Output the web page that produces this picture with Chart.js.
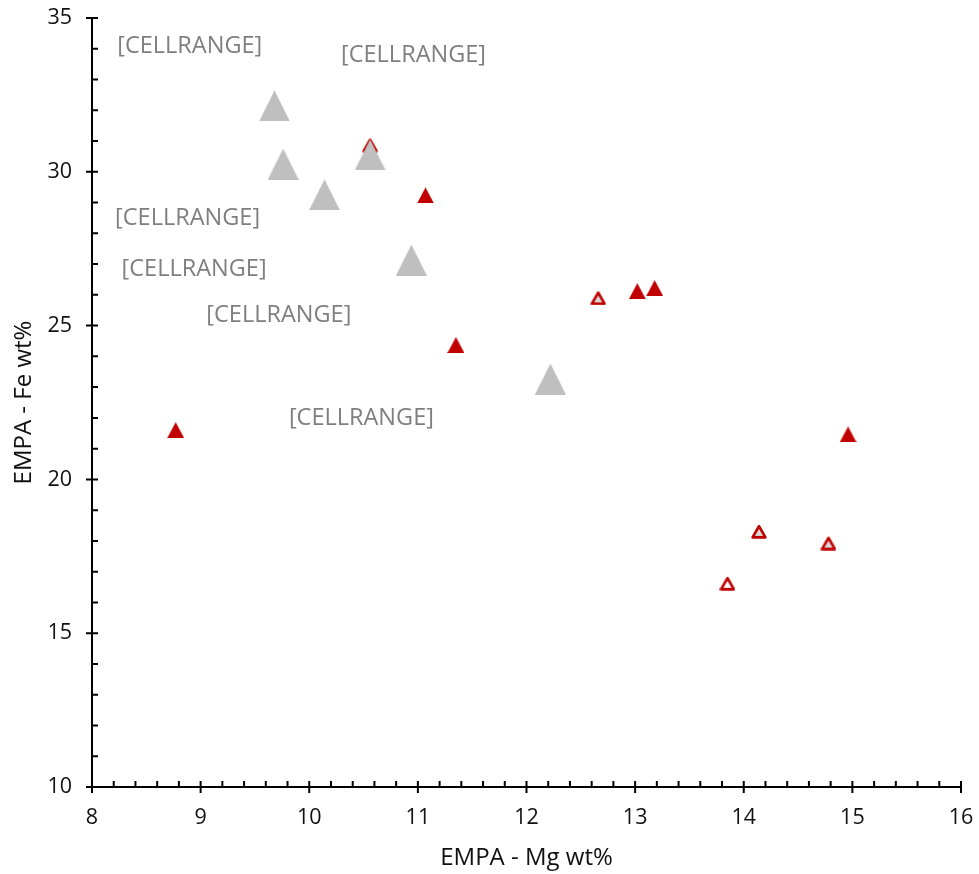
<!DOCTYPE html>
<html><head><meta charset="utf-8">
<script src="https://cdn.jsdelivr.net/npm/chart.js@4.4.0/dist/chart.umd.min.js"></script>
<style>html,body{margin:0;padding:0;background:#fff;}#wrap{width:979px;height:874px;position:relative;}</style>
</head><body><div id="wrap"><canvas id="c"></canvas></div>
<script>
// ---- data ----
const grayMg = [9.68, 9.76, 10.14, 10.56, 10.94, 12.22];
const grayFe = [32.14, 30.25, 29.25, 30.55, 27.13, 23.26];
const grayLabels = ['[CELLRANGE]', '[CELLRANGE]', '[CELLRANGE]', '[CELLRANGE]', '[CELLRANGE]', '[CELLRANGE]'];
const labelMg = [8.90, 10.96, 8.88, 8.94, 9.72, 10.48];
const labelFe = [34.09, 33.80, 28.50, 26.84, 25.34, 21.99];
const filledMg = [8.77, 11.07, 11.35, 13.02, 13.18, 14.96];
const filledFe = [21.60, 29.23, 24.37, 26.12, 26.22, 21.46];
const openMg = [10.56, 12.66, 13.85, 14.14, 14.78];
const openFe = [30.87, 25.90, 16.62, 18.31, 17.93];
const xTicks = [8, 9, 10, 11, 12, 13, 14, 15, 16];
const yTicks = [10, 15, 20, 25, 30, 35];
const xTitle = 'EMPA - Mg wt%';
const yTitle = 'EMPA - Fe wt%';

const pts = (xs, ys) => xs.map((x, i) => ({x: x, y: ys[i]}));

function tri(w, h, fill, stroke, lw) {
  const c = document.createElement('canvas');
  c.width = w; c.height = h;
  const g = c.getContext('2d');
  const i = lw ? lw / 2 + 0.3 : 0;
  g.beginPath();
  g.moveTo(w / 2, i * 1.4);
  g.lineTo(w - i, h - i);
  g.lineTo(i, h - i);
  g.closePath();
  g.fillStyle = fill; g.fill();
  if (lw) { g.lineJoin = 'round'; g.lineWidth = lw; g.strokeStyle = stroke; g.stroke(); }
  return c;
}
const RED = '#c00000';
const grayTri = tri(31, 31, '#bfbfbf');
const redTri = tri(17, 16, RED);
const openTriG = tri(16, 15, '#d9d9d9', RED, 2.6);
const openTriW = tri(16, 15, '#ffffff', RED, 2.6);

const FONT = "'Open Sans', 'DejaVu Sans', sans-serif";

const tickPlugin = {
  id: 'ticksPlugin',
  beforeDatasetsDraw(chart) {
    const {ctx, scales: {x, y}} = chart;
    ctx.save();
    ctx.strokeStyle = '#000';
    ctx.lineWidth = 2;
    const ay = y.getPixelForValue(10), ax = x.getPixelForValue(8);
    ctx.beginPath();
    for (let k = 0; k <= 40; k++) {
      const v = 8 + k * 0.2;
      const px = x.getPixelForValue(v);
      const major = k % 5 === 0;
      ctx.moveTo(px, ay - 6);
      ctx.lineTo(px, major ? ay + 6 : ay);
    }
    for (let v = 10; v <= 35; v++) {
      const py = y.getPixelForValue(v);
      const major = v % 5 === 0;
      ctx.moveTo(major ? ax - 6 : ax, py);
      ctx.lineTo(ax + 6, py);
    }
    ctx.stroke();
    ctx.restore();
  }
};

const labelPlugin = {
  id: 'cellLabels',
  afterDatasetsDraw(chart) {
    const {ctx, scales: {x, y}} = chart;
    ctx.save();
    ctx.font = "23.5px " + FONT;
    ctx.fillStyle = '#7f7f7f';
    ctx.textAlign = 'center';
    ctx.textBaseline = 'middle';
    grayLabels.forEach((t, i) => {
      ctx.fillText(t, x.getPixelForValue(labelMg[i]), y.getPixelForValue(labelFe[i]));
    });
    ctx.restore();
  }
};

new Chart(document.getElementById('c'), {
  type: 'scatter',
  data: {
    datasets: [
      { label: 'gray', data: pts(grayMg, grayFe), pointStyle: grayTri, pointRadius: 8, pointHoverRadius: 8, order: 0 },
      { label: 'filled', data: pts(filledMg, filledFe), pointStyle: redTri, pointRadius: 8, pointHoverRadius: 8, order: 1 },
      { label: 'open', data: pts(openMg, openFe), pointStyle: [openTriG, openTriG, openTriW, openTriG, openTriG], pointRadius: 8, pointHoverRadius: 8, order: 2 }
    ]
  },
  options: {
    responsive: true,
    maintainAspectRatio: false,
    animation: false,
    events: [],
    layout: { padding: { top: 18, right: 18, left: 0, bottom: 0 } },
    plugins: { legend: { display: false }, tooltip: { enabled: false } },
    scales: {
      x: {
        type: 'linear', min: 8, max: 16,
        afterBuildTicks(s) { s.ticks = xTicks.map(v => ({value: v})); },
        afterFit(s) { s.height = 87; s.paddingLeft = 0; s.paddingRight = 0; },
        grid: { display: false, drawTicks: false },
        border: { display: true, color: '#000', width: 2 },
        ticks: { color: '#111', font: { family: FONT, size: 21.5 }, padding: 18 },
        title: { display: true, text: xTitle, color: '#111', font: { family: FONT, size: 24 }, padding: { top: 0, bottom: 1 } }
      },
      y: {
        type: 'linear', min: 10, max: 35,
        afterBuildTicks(s) { s.ticks = yTicks.map(v => ({value: v})); },
        afterFit(s) { s.width = 92; s.paddingTop = 0; s.paddingBottom = 0; },
        grid: { display: false, drawTicks: false },
        border: { display: true, color: '#000', width: 2 },
        ticks: { color: '#111', font: { family: FONT, size: 21.5 }, padding: 20 },
        title: { display: true, text: yTitle, color: '#111', font: { family: FONT, size: 24 }, padding: { top: 10, bottom: 0 } }
      }
    }
  },
  plugins: [tickPlugin, labelPlugin]
});
</script></body></html>
